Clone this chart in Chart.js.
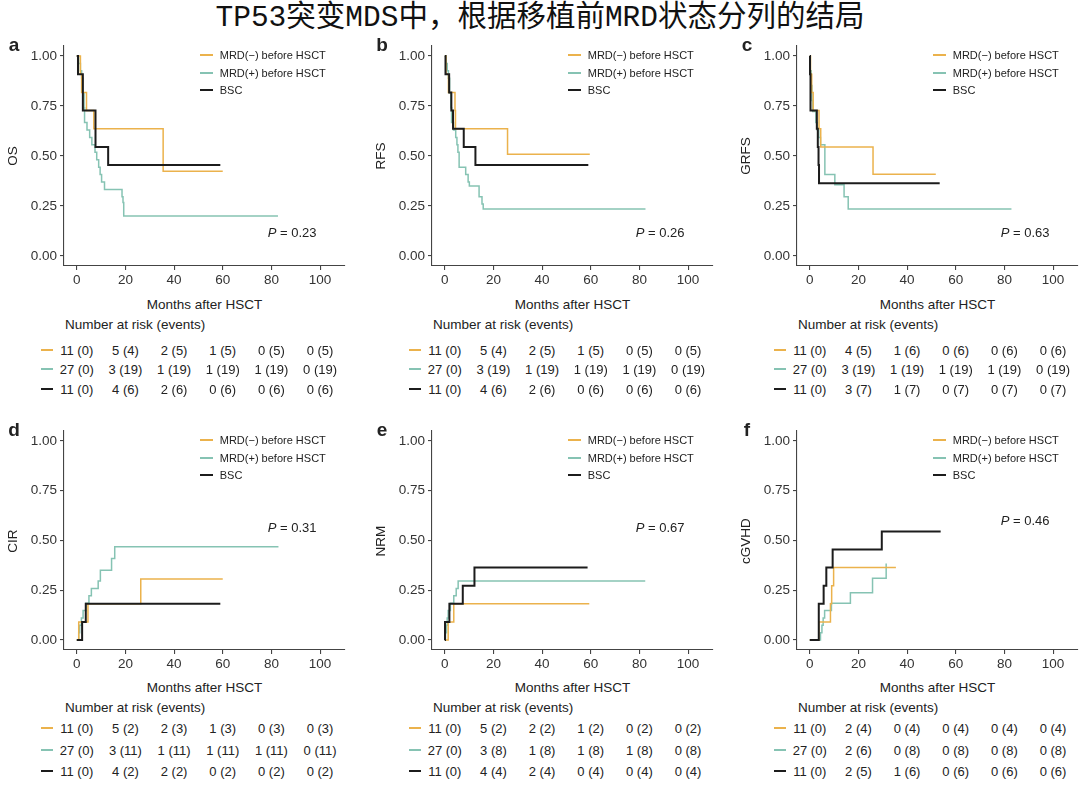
<!DOCTYPE html>
<html>
<head>
<meta charset="utf-8">
<script src="https://cdn.jsdelivr.net/npm/chart.js@4.4.1/dist/chart.umd.min.js"></script>
<style>
  body { margin: 0; background: #fff; width: 1080px; height: 785px; position: relative; overflow: hidden;
         font-family: "Liberation Sans", Arial, sans-serif; color: #222; }
  .t { position: absolute; white-space: nowrap; line-height: 1; }
  canvas { position: absolute; }
  #title { position: absolute; left: 0; width: 1080px; top: 2px; text-align: center; font-size: 29.5px;
           line-height: 1.1; font-family: "Liberation Mono", "Noto Sans CJK SC", monospace; color: #111; }
</style>
</head>
<body>
<div id="title">TP53突变MDS中，根据移植前MRD状态分列的结局</div>
<script>
// Groups
const groupNames = ['MRD(\u2212) before HSCT', 'MRD(+) before HSCT', 'BSC'];
const groupColors = ['#EBB24C', '#86C3B3', '#1c1c1c'];
const groupWidths = [1.5, 1.5, 2];

// Axis ticks
const xTicks = [0, 20, 40, 60, 80, 100];
const yTicks = [0, 0.25, 0.5, 0.75, 1];

// a - OS  [months, value]
const osNeg = [[0, 1], [1.5, 0.909], [2, 0.818], [4, 0.727], [7, 0.636], [35.5, 0.424], [60, 0.424]];
const osPos = [[0, 1], [0.8, 0.963], [1.5, 0.926], [2, 0.889], [2.5, 0.815], [3, 0.741], [3.2, 0.667], [4.2, 0.63],
  [5.3, 0.593], [6.2, 0.556], [7.5, 0.519], [8.2, 0.481], [9, 0.444], [9.6, 0.407], [10.2, 0.37], [11.4, 0.333],
  [18.6, 0.296], [19, 0.267], [19.3, 0.2], [82.7, 0.2]];
const osBsc = [[0, 1], [0.5, 0.909], [2.5, 0.727], [7.7, 0.545], [12.9, 0.455], [59, 0.455]];

// b - RFS
const rfsNeg = [[0, 1], [0.5, 0.909], [1.5, 0.818], [4.2, 0.727], [4.4, 0.636], [25.8, 0.509], [59.6, 0.509]];
const rfsPos = [[0, 1], [0.5, 0.963], [1, 0.926], [1.5, 0.889], [2, 0.815], [2.5, 0.741], [2.8, 0.667], [3.6, 0.63],
  [4.5, 0.593], [5, 0.556], [5.4, 0.519], [5.9, 0.444], [8.6, 0.407], [9.6, 0.37], [10.1, 0.35], [14.1, 0.296],
  [15.3, 0.26], [15.8, 0.235], [82.5, 0.235]];
const rfsBsc = [[0, 1], [0.3, 0.909], [1.8, 0.818], [2.7, 0.727], [3.4, 0.636], [7.8, 0.545], [12.6, 0.455], [59, 0.455]];

// c - GRFS
const grfsNeg = [[0, 1], [0.3, 0.909], [0.8, 0.818], [1.4, 0.727], [3.8, 0.636], [4.5, 0.545], [26, 0.409], [51.8, 0.409]];
const grfsPos = [[0, 1], [0.2, 0.926], [0.6, 0.852], [0.9, 0.778], [1.2, 0.722], [2.5, 0.667], [3.1, 0.63], [3.7, 0.593],
  [4.4, 0.556], [6.2, 0.407], [10.3, 0.356], [14.1, 0.296], [15.8, 0.235], [82.9, 0.235]];
const grfsBsc = [[0, 1], [0.1, 0.909], [0.3, 0.727], [2.9, 0.636], [3.3, 0.545], [3.6, 0.455], [3.8, 0.364], [53.4, 0.364]];

// d - CIR
const cirNeg = [[0, 0], [0.8, 0.091], [4.6, 0.182], [26.3, 0.307], [60, 0.307]];
const cirPos = [[0, 0], [0.8, 0.037], [1.2, 0.074], [1.9, 0.111], [2.6, 0.148], [3.7, 0.185], [5, 0.222], [6, 0.259],
  [8.8, 0.296], [9.7, 0.351], [14.3, 0.41], [15.6, 0.468], [82.9, 0.468]];
const cirBsc = [[0, 0], [2.2, 0.091], [3.7, 0.182], [59, 0.182]];

// e - NRM
const nrmNeg = [[0, 0], [1.4, 0.091], [3.7, 0.182], [59.4, 0.182]];
const nrmPos = [[0, 0], [0.3, 0.037], [0.7, 0.074], [1, 0.111], [1.4, 0.148], [2.3, 0.185], [3.7, 0.222], [4.7, 0.259],
  [5.5, 0.296], [82.4, 0.296]];
const nrmBsc = [[0, 0], [0.1, 0.091], [1.9, 0.182], [7.4, 0.273], [12.2, 0.364], [58.7, 0.364]];

// f - cGVHD
const gvhdNeg = [[0, 0], [3.7, 0.091], [8.5, 0.182], [9, 0.273], [9.8, 0.364], [35.4, 0.364]];
const gvhdPos = [[0, 0], [4.4, 0.037], [5, 0.074], [5.5, 0.111], [6.1, 0.148], [8.9, 0.185], [16.7, 0.237], [25.8, 0.311],
  [31.4, 0.385]];
const gvhdBsc = [[0, 0], [3.7, 0.182], [5.7, 0.273], [6.8, 0.364], [9.4, 0.455], [29.6, 0.545], [53.8, 0.545]];

// Number at risk (events)
const osRisk = [['11 (0)', '5 (4)', '2 (5)', '1 (5)', '0 (5)', '0 (5)'],
  ['27 (0)', '3 (19)', '1 (19)', '1 (19)', '1 (19)', '0 (19)'],
  ['11 (0)', '4 (6)', '2 (6)', '0 (6)', '0 (6)', '0 (6)']];
const rfsRisk = [['11 (0)', '5 (4)', '2 (5)', '1 (5)', '0 (5)', '0 (5)'],
  ['27 (0)', '3 (19)', '1 (19)', '1 (19)', '1 (19)', '0 (19)'],
  ['11 (0)', '4 (6)', '2 (6)', '0 (6)', '0 (6)', '0 (6)']];
const grfsRisk = [['11 (0)', '4 (5)', '1 (6)', '0 (6)', '0 (6)', '0 (6)'],
  ['27 (0)', '3 (19)', '1 (19)', '1 (19)', '1 (19)', '0 (19)'],
  ['11 (0)', '3 (7)', '1 (7)', '0 (7)', '0 (7)', '0 (7)']];
const cirRisk = [['11 (0)', '5 (2)', '2 (3)', '1 (3)', '0 (3)', '0 (3)'],
  ['27 (0)', '3 (11)', '1 (11)', '1 (11)', '1 (11)', '0 (11)'],
  ['11 (0)', '4 (2)', '2 (2)', '0 (2)', '0 (2)', '0 (2)']];
const nrmRisk = [['11 (0)', '5 (2)', '2 (2)', '1 (2)', '0 (2)', '0 (2)'],
  ['27 (0)', '3 (8)', '1 (8)', '1 (8)', '1 (8)', '0 (8)'],
  ['11 (0)', '4 (4)', '2 (4)', '0 (4)', '0 (4)', '0 (4)']];
const gvhdRisk = [['11 (0)', '2 (4)', '0 (4)', '0 (4)', '0 (4)', '0 (4)'],
  ['27 (0)', '2 (6)', '0 (8)', '0 (8)', '0 (8)', '0 (8)'],
  ['11 (0)', '2 (5)', '1 (6)', '0 (6)', '0 (6)', '0 (6)']];

const FONT = '"Liberation Sans", Arial, sans-serif';

// Panel layout (pixel boxes of each plot area)
const panels = [
  { letter: 'a', yTitle: 'OS', p: '0.23', series: [osNeg, osPos, osBsc], risk: osRisk,
    left: 64, right: 345, top: 46, bottom: 266, pY: 232, riskTop: 305, rowYs: [350, 369, 389] },
  { letter: 'b', yTitle: 'RFS', p: '0.26', series: [rfsNeg, rfsPos, rfsBsc], risk: rfsRisk,
    left: 432, right: 713, top: 46, bottom: 266, pY: 232, riskTop: 305, rowYs: [350, 369, 389] },
  { letter: 'c', yTitle: 'GRFS', p: '0.63', series: [grfsNeg, grfsPos, grfsBsc], risk: grfsRisk,
    left: 797, right: 1078, top: 46, bottom: 266, pY: 232, riskTop: 305, rowYs: [350, 369, 389] },
  { letter: 'd', yTitle: 'CIR', p: '0.31', series: [cirNeg, cirPos, cirBsc], risk: cirRisk,
    left: 64, right: 345, top: 431, bottom: 650, pY: 527, riskTop: 688, rowYs: [728, 750, 771] },
  { letter: 'e', yTitle: 'NRM', p: '0.67', series: [nrmNeg, nrmPos, nrmBsc], risk: nrmRisk,
    left: 432, right: 713, top: 431, bottom: 650, pY: 527, riskTop: 688, rowYs: [728, 750, 771] },
  { letter: 'f', yTitle: 'cGVHD', p: '0.46', series: [gvhdNeg, gvhdPos, gvhdBsc], risk: gvhdRisk,
    left: 797, right: 1078, top: 431, bottom: 650, pY: 520, riskTop: 688, rowYs: [728, 750, 771] },
];

/**
 * Put a text label on the page
 */
function addText(html, x, y, opts = {}) {
  const el = document.createElement('div');
  el.className = 't';
  el.innerHTML = html;
  el.style.left = x + 'px';
  el.style.top = y + 'px';
  el.style.fontSize = (opts.size || 13) + 'px';
  if (opts.weight) el.style.fontWeight = opts.weight;
  const tx = opts.align === 'left' ? '0' : opts.align === 'right' ? '-100%' : '-50%';
  el.style.transform = `translate(${tx}, -50%)` + (opts.rotate ? ` rotate(${opts.rotate}deg)` : '');
  document.body.appendChild(el);
  return el;
}

function addDash(x, y, w, color, width) {
  const el = document.createElement('div');
  el.style.position = 'absolute';
  el.style.left = x + 'px';
  el.style.top = (y - width / 2) + 'px';
  el.style.width = w + 'px';
  el.style.height = width + 'px';
  el.style.background = color;
  document.body.appendChild(el);
}

/**
 * Build one KM panel
 */
function buildPanel(cfg) {
  const padL = 50, padT = 12, padR = 4, padB = 28;
  const w = cfg.right - cfg.left + padL + padR;
  const h = cfg.bottom - cfg.top + padT + padB;
  const canvas = document.createElement('canvas');
  canvas.width = w;
  canvas.height = h;
  canvas.style.width = w + 'px';
  canvas.style.height = h + 'px';
  canvas.style.left = (cfg.left - padL) + 'px';
  canvas.style.top = (cfg.top - padT) + 'px';
  document.body.appendChild(canvas);

  const axisCommon = {
    type: 'linear',
    grid: { drawOnChartArea: false, drawTicks: true, tickLength: 4, color: '#444', lineWidth: 1.1 },
    border: { display: true, color: '#444', width: 1.1 },
    ticks: { font: { size: 13.5, family: FONT }, color: '#333', autoSkip: false, maxRotation: 0 },
  };

  const chart = new Chart(canvas, {
    type: 'line',
    data: {
      datasets: cfg.series.map((s, i) => ({
        label: groupNames[i],
        data: s.map(([x, y]) => ({ x, y })),
        borderColor: groupColors[i],
        borderWidth: groupWidths[i],
        pointRadius: 0,
        stepped: 'before',
        fill: false,
        order: i === 2 ? 0 : i === 0 ? 1 : 2,
      })),
    },
    options: {
      responsive: false,
      animation: false,
      layout: { padding: { left: 0, top: padT, right: padR, bottom: 0 } },
      plugins: { legend: { display: false }, tooltip: { enabled: false } },
      scales: {
        x: {
          ...axisCommon,
          min: -5.25,
          max: 110.25,
          afterFit: (s) => { s.height = padB; },
          afterBuildTicks: (s) => { s.ticks = xTicks.map((v) => ({ value: v })); },
          ticks: { ...axisCommon.ticks, padding: 2 },
        },
        y: {
          ...axisCommon,
          min: -0.05,
          max: 1.05,
          afterFit: (s) => { s.width = padL; },
          afterBuildTicks: (s) => { s.ticks = yTicks.map((v) => ({ value: v })); },
          ticks: { ...axisCommon.ticks, padding: 3, callback: (v) => Number(v).toFixed(2) },
        },
      },
    },
  });

  const ox = cfg.left - padL;
  const xs = xTicks.map((v) => ox + chart.scales.x.getPixelForValue(v));
  const midY = (cfg.top + cfg.bottom) / 2;

  // Panel letter and y title
  addText(cfg.letter, cfg.left - 50, cfg.top - 2, { size: 19, weight: 'bold' });
  addText(cfg.yTitle, cfg.left - 51, midY, { rotate: -90, size: 13.5 });

  // Legend
  const legX = xs[0] + 123;
  const legYs = [cfg.top + 9, cfg.top + 27, cfg.top + 44];
  groupNames.forEach((name, i) => {
    addDash(legX, legYs[i], 13, groupColors[i], i === 2 ? 2 : 1.5);
    addText(name, legX + 20, legYs[i], { size: 11, align: 'left' });
  });

  // P value
  addText('<i>P</i> = ' + cfg.p, xs[0] + 191, cfg.pY, { align: 'left' });

  // X title and risk table
  addText('Months after HSCT', (cfg.left + cfg.right) / 2, cfg.riskTop, { size: 13.5 });
  addText('Number at risk (events)', cfg.left + 1, cfg.riskTop + 20, { align: 'left', size: 13.5 });
  cfg.risk.forEach((row, r) => {
    const y = cfg.rowYs[r];
    addDash(xs[0] - 36, y, 12, groupColors[r], r === 2 ? 2 : 1.5);
    row.forEach((cell, c) => addText(cell, xs[c], y));
  });
}

panels.forEach(buildPanel);
</script>
</body>
</html>
